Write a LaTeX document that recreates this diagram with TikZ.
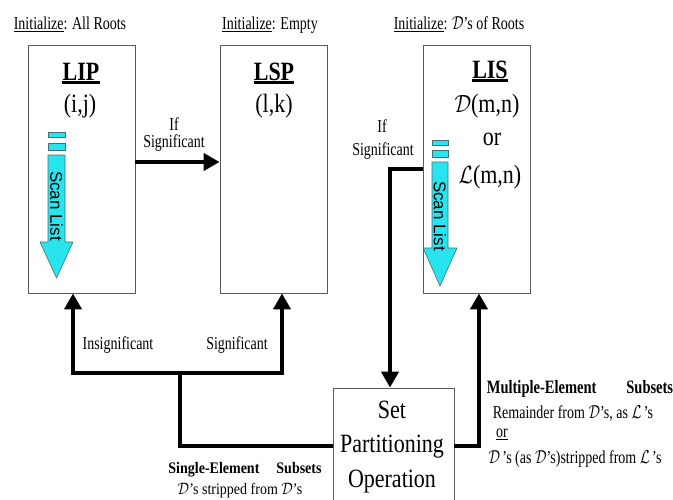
\documentclass[tikz,border=0pt]{standalone}
\usepackage{fontspec}
\setmainfont{Liberation Serif}
\setsansfont{Liberation Sans}
\usetikzlibrary{arrows.meta,positioning}

\definecolor{scancyan}{RGB}{40,228,238}
\definecolor{scanedge}{RGB}{70,110,115}
\newcommand{\setD}{$\mathcal{D}$}
\newcommand{\setL}{$\mathcal{L}$}

\tikzset{
  listbox/.style={draw=black!65,line width=0.8pt,minimum width=107pt,minimum height=248pt,inner sep=0pt},
  opbox/.style={draw=black!65,line width=0.8pt,minimum width=121pt,minimum height=116pt,inner sep=0pt},
  flow/.style={line width=4pt,-{Triangle[length=16pt,width=17pt]}},
  wire/.style={line width=4pt},
  lbl/.style={font=\fontsize{14}{16}\selectfont,anchor=base,inner sep=0pt,yscale=1.3},
  big/.style={font=\fontsize{22}{24}\selectfont,anchor=base,inner sep=0pt,yscale=1.2},
  ttl/.style={font=\fontsize{22}{24}\selectfont\bfseries,anchor=base,inner sep=0pt,yscale=1.2},
  scan/.style={fill=scancyan,draw=scanedge,line width=0.6pt},
  scantext/.style={font=\sffamily\fontsize{17}{18}\selectfont,rotate=-90,inner sep=0pt}
}

\begin{document}
\begin{tikzpicture}[x=1pt,y=-1pt]
\clip (0,0) rectangle (673,499);

% the three lists
\node[listbox] (lip) at (81.5,169) {};
\node[listbox] (lsp) at (273.5,169) {};
\node[listbox] (lis) at (477,169) {};
\node[opbox] (spo) at (393.5,446) {};

\node[lbl] (initlip) at (70,29) {\underline{Initialize}: All Roots};
\node[lbl] (initlsp) at (270,29) {\underline{Initialize}: Empty};
\node[lbl] (initlis) at (459,29) {\underline{Initialize}: \setD's of Roots};

\node[ttl] (liptitle) at (81,80) {LIP};
\node[ttl] (lsptitle) at (274,80) {LSP};
\node[ttl] (listitle) at (490,78) {LIS};
\foreach \t in {liptitle,lsptitle,listitle}
  \draw[line width=2.5pt] ([yshift=-2.5pt]\t.base west) -- ([yshift=-2.5pt]\t.base east);

\node[big] (lipidx) at (80,112) {(i,j)};
\node[big] (lspidx) at (274,112) {(l,k)};
\node[big] (lisd) at (487,112) {\setD(m,n)};
\node[big] (lisor) at (492,145) {or};
\node[big] (lisl) at (490,183) {\setL(m,n)};

% scan list arrows
\draw[scan] (48,132) rectangle (65,137);
\draw[scan] (48,143) rectangle (65,150);
\draw[scan] (48,155) -- (65,155) -- (65,242) -- (73,242) -- (56.5,278) -- (40,242) -- (48,242) -- cycle;
\node[scantext] (scanlip) at (56.5,206) {Scan List};

\draw[scan] (432,140) rectangle (448,145);
\draw[scan] (432,150) rectangle (448,157);
\draw[scan] (432,162) -- (448,162) -- (448,248) -- (457,248) -- (440,286) -- (423,248) -- (432,248) -- cycle;
\node[scantext] (scanlis) at (440,216) {Scan List};

% connectors
\draw[flow] ([yshift=7pt]lip.east) -- ([yshift=7pt]lsp.west);
\node[lbl] (ifsig1) at (174,130) {If};
\node[lbl] (sig1) at (174,147) {Significant};

\draw[flow] (lis.west) -| ([xshift=-3.5pt]spo.north);
\node[lbl] (ifsig2) at (382,132) {If};
\node[lbl] (sig2) at (383,155) {Significant};

\coordinate (split) at (180,373);
\draw[wire] (spo.west) -| (split);
\draw[flow] (split) -| ([xshift=-8.5pt]lip.south);
\draw[flow] (split) -| ([xshift=8.5pt]lsp.south);
\node[lbl] (insig) at (118,349) {Insignificant};
\node[lbl] (sig3) at (237,349) {Significant};

\draw[flow] (spo.east) -| ([xshift=2pt]lis.south);

% operation box
\node[big] (opset) at (392,418) {Set};
\node[big] (oppart) at (392,452) {Partitioning};
\node[big] (opop) at (392,487) {Operation};

\node[lbl,font=\fontsize{14}{16}\selectfont\bfseries,yscale=1.15/1.3] (single) at (245,473) {Single-Element\hspace{17pt}Subsets};
\node[lbl,yscale=1.15/1.3] (singletxt) at (240,494) {\setD's stripped from \setD's};

\node[lbl,font=\fontsize{14.5}{16}\selectfont\bfseries] (multi) at (580,393) {Multiple-Element\hspace{30pt}Subsets};
\node[lbl] (multitxt) at (573,418) {Remainder from \setD's, as \setL\,'s};
\node[lbl] (multior) at (502,437) {\underline{or}};
\node[lbl] (multitxt2) at (575,463) {\setD\,'s (as \setD's)stripped from \setL\,'s};

\end{tikzpicture}
\end{document}
